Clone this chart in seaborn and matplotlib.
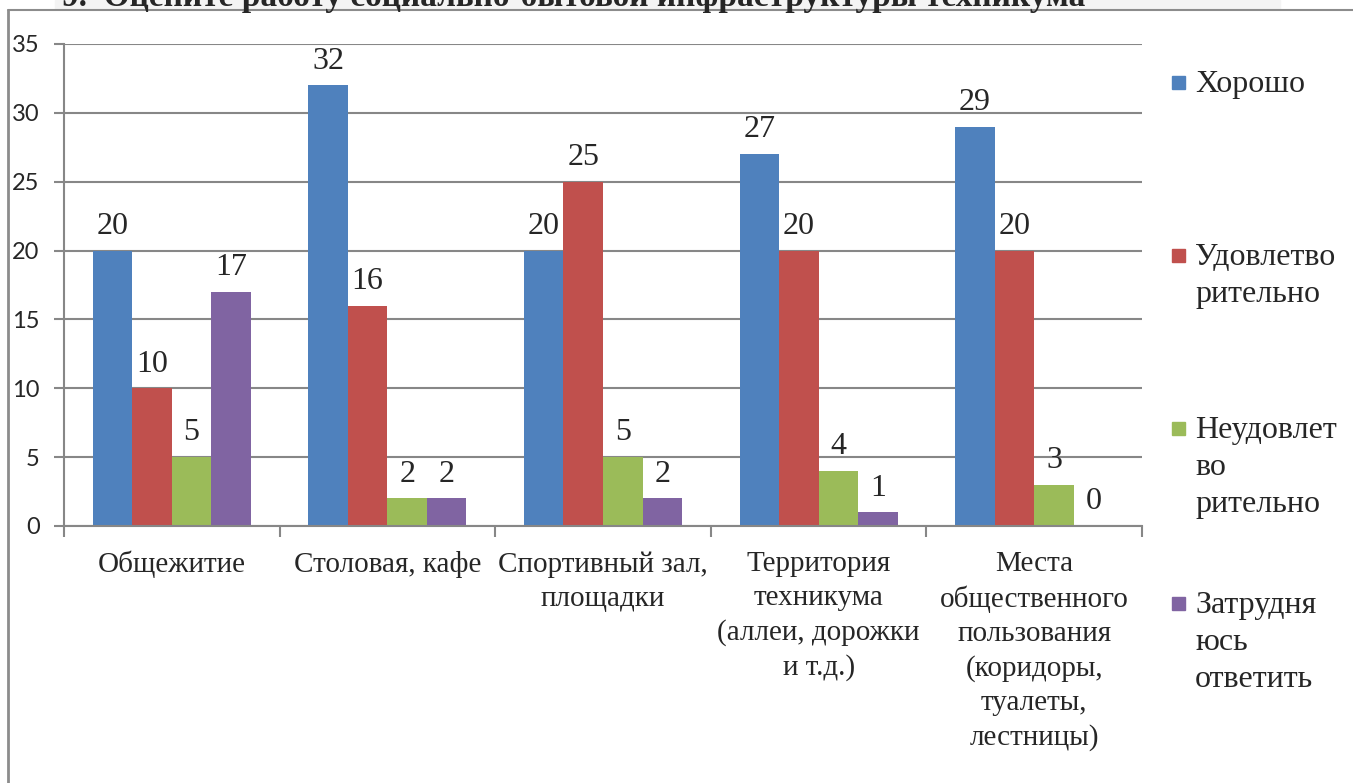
import pandas as pd
import seaborn as sns
import matplotlib.pyplot as plt
from matplotlib.patches import Rectangle
from matplotlib.lines import Line2D

categories = ['Общежитие', 'Столовая, кафе', 'Спортивный зал,\nплощадки',
              'Территория\nтехникума\n(аллеи, дорожки\nи т.д.)',
              'Места\nобщественного\nпользования\n(коридоры,\nтуалеты,\nлестницы)']
series = ['Хорошо', 'Удовлетворительно', 'Неудовлетворительно', 'Затрудняюсь ответить']
legend_labels = ['Хорошо', 'Удовлетво\nрительно', 'Неудовлет\nво\nрительно', 'Затрудня\nюсь\nответить']
horosho = [20, 32, 20, 27, 29]
udovl = [10, 16, 25, 20, 20]
neudovl = [5, 2, 5, 4, 3]
zatrud = [17, 2, 2, 1, 0]
y_ticks = [0, 5, 10, 15, 20, 25, 30, 35]

palette = ['#4F81BD', '#C0504D', '#9BBB59', '#8064A2']
grid_color = '#878787'
W, H = 1353, 783

df = pd.DataFrame({'cat': categories * 4,
                   'series': [s for s in series for _ in categories],
                   'value': horosho + udovl + neudovl + zatrud})

sns.set_theme(style='white')
plt.rcParams['font.family'] = ['Liberation Serif', 'DejaVu Serif']

fig = plt.figure(figsize=(W / 100, H / 100), dpi=100)
ax = fig.add_axes([64 / W, 1 - 526 / H, (1142 - 64) / W, (526 - 44) / H])

sns.barplot(data=df, x='cat', y='value', hue='series', palette=palette,
            width=0.733, gap=0, saturation=1, linewidth=0, ax=ax, legend=False)

for container in ax.containers:
    ax.bar_label(container, fontsize=23, padding=7, family='Liberation Serif')

ax.set_ylim(0, 35)
ax.set_xlim(-0.5, 4.5)
ax.set_yticks(y_ticks)
ax.set_yticklabels([str(t) for t in y_ticks], fontsize=17, family='Lato')
ax.yaxis.grid(True, color=grid_color, linewidth=1.5)
ax.set_axisbelow(True)
ax.tick_params(axis='y', length=7, width=1.5, color=grid_color, pad=10.5, left=True)
ax.set_xticks(range(5))
ax.set_xticklabels(categories, fontsize=21, linespacing=1.4, va='top')
ax.tick_params(axis='x', which='major', length=0, pad=18)
ax.set_xticks([-0.5, 0.5, 1.5, 2.5, 3.5, 4.5], minor=True)
ax.tick_params(axis='x', which='minor', length=8, width=1.5, color=grid_color, bottom=True)
ax.set_xlabel('')
ax.set_ylabel('')
for side in ['top', 'right']:
    ax.spines[side].set_visible(False)
for side in ['left', 'bottom']:
    ax.spines[side].set_color(grid_color)
    ax.spines[side].set_linewidth(1.5)

# outer chart frame
fig.add_artist(Line2D([8 / W, 1], [1 - 10 / H, 1 - 10 / H], color='#8c8c8c', linewidth=1.5))
fig.add_artist(Line2D([8 / W, 8 / W], [0, 1 - 10 / H], color='#8c8c8c', linewidth=2))

# cut-off title from the page above
fig.add_artist(Rectangle((55 / W, 1 - 9 / H), (1280 - 55) / W, 9 / H,
                         transform=fig.transFigure, color='#f4f4f4', zorder=0))
fig.text(62 / W, 1 - 6 / H, '9.  Оцените работу социально-бытовой инфраструктуры техникума',
         fontsize=24, fontweight='bold', va='baseline', ha='left')

# legend, square aligned with first line of label
legend_y = [82, 255, 428, 603]
for color, label, y in zip(palette, legend_labels, legend_y):
    fig.add_artist(Rectangle((1172 / W, 1 - (y + 7) / H), 13 / W, 13 / H,
                             transform=fig.transFigure, color=color))
    fig.text(1195 / W, 1 - (y - 12) / H, label, fontsize=23, va='top', ha='left',
             linespacing=1.36)

fig.savefig('out.png', dpi=100)
